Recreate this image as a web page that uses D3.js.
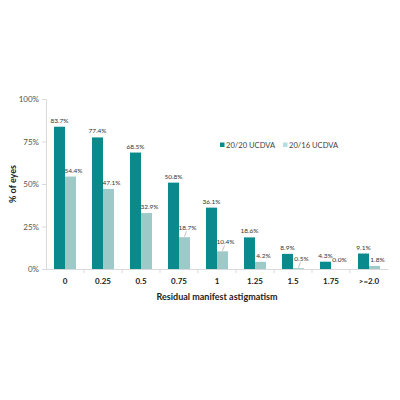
<!DOCTYPE html>
<html>
<head>
<meta charset="utf-8">
<script src="https://cdn.jsdelivr.net/npm/d3@7"></script>
<style>
  body { margin: 0; background: #fff; }
  text { font-family: Lato, "Open Sans", sans-serif; }
</style>
</head>
<body>
<script>
var categories = ["0", "0.25", "0.5", "0.75", "1", "1.25", "1.5", "1.75", ">=2.0"];
var seriesNames = ["20/20 UCDVA", "20/16 UCDVA"];
var ucdva2020 = [83.7, 77.4, 68.5, 50.8, 36.1, 18.6, 8.9, 4.3, 9.1];
var ucdva2016 = [54.4, 47.1, 32.9, 18.7, 10.4, 4.2, 0.5, 0.0, 1.8];
var yTicks = [0, 25, 50, 75, 100];
var leaderIdx = [3, 4, 6];

var width = 400, height = 400;
var margin = {top: 99, right: 12, bottom: 131, left: 46};

var svg = d3.select("body").append("svg")
  .attr("width", width)
  .attr("height", height);

var x = d3.scaleBand().domain(categories).range([margin.left, width - margin.right]);
var y = d3.scaleLinear().domain([0, 100]).range([height - margin.bottom, margin.top]);
var barW = 11;
var colors = ["#0a8a8c", "#9dc9c9"];
var legendColors = ["#0a8a8c", "#b3dfe0"];

// y axis
var yAxis = svg.append("g")
  .attr("transform", "translate(" + margin.left + ",0)")
  .call(d3.axisLeft(y).tickValues(yTicks).tickSize(4).tickFormat(function(d) { return d + "%"; }));
yAxis.selectAll("path, line").attr("stroke", "#d9d9d9");
yAxis.selectAll("text").attr("fill", "#555").style("font-size", "8px");

// x axis
var xAxis = svg.append("g")
  .attr("transform", "translate(0," + y(0) + ")")
  .call(d3.axisBottom(x).tickSize(0).tickPadding(9));
xAxis.select("path").attr("stroke", "#d9d9d9");
xAxis.selectAll("text").attr("fill", "#222").style("font-size", "8px").style("font-weight", "bold");
svg.selectAll(".sep")
  .data(categories.slice(1))
  .enter().append("line")
  .attr("x1", function(d) { return x(d); })
  .attr("x2", function(d) { return x(d); })
  .attr("y1", y(0))
  .attr("y2", y(0) + 4)
  .attr("stroke", "#d9d9d9");

// bars
svg.selectAll(".b1")
  .data(ucdva2020)
  .enter().append("rect")
  .attr("x", function(d, i) { return x(categories[i]) + x.bandwidth() / 2 - barW; })
  .attr("y", function(d) { return y(d); })
  .attr("width", barW)
  .attr("height", function(d) { return y(0) - y(d); })
  .attr("fill", colors[0]);

svg.selectAll(".b2")
  .data(ucdva2016)
  .enter().append("rect")
  .attr("x", function(d, i) { return x(categories[i]) + x.bandwidth() / 2; })
  .attr("y", function(d) { return y(d); })
  .attr("width", barW)
  .attr("height", function(d) { return y(0) - y(d); })
  .attr("fill", colors[1]);

// value labels
svg.selectAll(".l1")
  .data(ucdva2020)
  .enter().append("text")
  .attr("x", function(d, i) { return x(categories[i]) + x.bandwidth() / 2 - barW / 2; })
  .attr("y", function(d) { return y(d) - 4; })
  .attr("text-anchor", "middle")
  .style("font-size", "6.5px")
  .attr("fill", "#333")
  .text(function(d) { return d.toFixed(1) + "%"; });

svg.selectAll(".l2")
  .data(ucdva2016)
  .enter().append("text")
  .attr("x", function(d, i) { return x(categories[i]) + x.bandwidth() / 2 + barW / 2 + 3; })
  .attr("y", function(d, i) {
    var ty = y(d) - 4;
    if (leaderIdx.indexOf(i) >= 0) ty -= 3;
    return Math.min(ty, y(0) - 7);
  })
  .attr("text-anchor", "middle")
  .style("font-size", "6.5px")
  .attr("fill", "#333")
  .text(function(d) { return d.toFixed(1) + "%"; });

svg.selectAll(".leader")
  .data(leaderIdx)
  .enter().append("line")
  .attr("x1", function(i) { return x(categories[i]) + x.bandwidth() / 2 + barW / 2; })
  .attr("y1", function(i) { return y(ucdva2016[i]) - 0.5; })
  .attr("x2", function(i) { return x(categories[i]) + x.bandwidth() / 2 + barW / 2 + 2; })
  .attr("y2", function(i) { return Math.min(y(ucdva2016[i]) - 6, y(0) - 6); })
  .attr("stroke", "#999")
  .attr("stroke-width", 0.6);

// axis titles
svg.append("text")
  .attr("transform", "translate(16," + (y(50)) + ") rotate(-90)")
  .attr("text-anchor", "middle")
  .style("font-size", "9px")
  .style("font-weight", "bold")
  .attr("fill", "#222")
  .text("% of eyes");

svg.append("text")
  .attr("x", (margin.left + width - margin.right) / 2)
  .attr("y", 300)
  .attr("text-anchor", "middle")
  .style("font-size", "9px")
  .style("font-weight", "bold")
  .attr("fill", "#222")
  .text("Residual manifest astigmatism");

// legend
var legend = svg.selectAll(".lg")
  .data(seriesNames)
  .enter().append("g")
  .attr("transform", function(d, i) { return "translate(" + (220 + i * 63) + ",145)"; });
legend.append("rect")
  .attr("x", 0).attr("y", -2.5)
  .attr("width", 4.5).attr("height", 4.5)
  .attr("fill", function(d, i) { return legendColors[i]; });
legend.append("text")
  .attr("x", 6).attr("y", 2.5)
  .style("font-size", "7.6px")
  .attr("fill", "#444")
  .text(function(d) { return d; });
</script>
</body>
</html>
